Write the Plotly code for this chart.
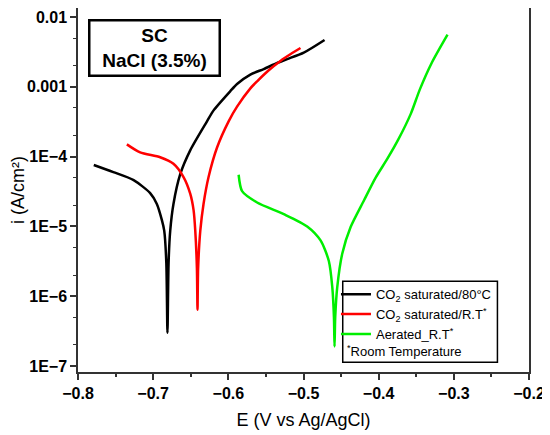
import plotly.graph_objects as go

# potentials (V vs Ag/AgCl) and current densities (A/cm2)
e_co2_80 = [-0.779, -0.753, -0.726, -0.704, -0.6951, -0.6884, -0.6853, -0.6825,
            -0.681, -0.6795, -0.6773, -0.673, -0.664, -0.6507, -0.6284, -0.6196,
            -0.5973, -0.5884, -0.5707, -0.553, -0.535, -0.5217, -0.4996, -0.472]
i_co2_80 = [7.6e-5, 6.0e-5, 4.6e-5, 3.0e-5, 2.1e-5, 1.23e-5, 8.7e-6, 3.0e-6,
            3.0e-7, 3.0e-6, 8.7e-6, 2.1e-5, 5.6e-5, 1.23e-4, 3.2e-4, 4.6e-4,
            8.7e-4, 1.1e-3, 1.5e-3, 1.8e-3, 2.2e-3, 2.5e-3, 3.1e-3, 4.7e-3]

e_co2_rt = [-0.735, -0.7173, -0.6907, -0.673, -0.6596, -0.6507, -0.6462, -0.644,
            -0.6418, -0.641, -0.6402, -0.6373, -0.633, -0.6263, -0.615, -0.5996,
            -0.5884, -0.5707, -0.5617, -0.547, -0.5307, -0.517, -0.504]
i_co2_rt = [1.5e-4, 1.15e-4, 9.8e-5, 7.9e-5, 5.1e-5, 2.95e-5, 1.7e-5, 8.7e-6,
            2.5e-6, 6.4e-7, 2.5e-6, 8.7e-6, 2.1e-5, 5.1e-5, 1.35e-4, 3.2e-4,
            5.2e-4, 9.5e-4, 1.2e-3, 1.7e-3, 2.35e-3, 2.95e-3, 3.6e-3]

e_aerated = [-0.5863, -0.5817, -0.5617, -0.5263, -0.4951, -0.4773, -0.4663, -0.4617,
             -0.4595, -0.4587, -0.4578, -0.4551, -0.4484, -0.4373, -0.4196, -0.404,
             -0.388, -0.374, -0.3573, -0.3452, -0.3295, -0.3084]
i_aerated = [5.5e-5, 3.2e-5, 2.2e-5, 1.5e-5, 1.0e-5, 6.3e-6, 3.2e-6, 1.35e-6,
             5.0e-7, 1.9e-7, 5.0e-7, 1.35e-6, 4.1e-6, 9.8e-6, 2.35e-5, 5.0e-5,
             9.5e-5, 1.75e-4, 4.1e-4, 9.2e-4, 2.2e-3, 5.6e-3]

series = [
    ("CO<sub>2</sub> saturated/80°C", e_co2_80, i_co2_80, "black"),
    ("CO<sub>2</sub> saturated/R.T<sup>*</sup>", e_co2_rt, i_co2_rt, "#ff0000"),
    ("Aerated_R.T<sup>*</sup>", e_aerated, i_aerated, "#00ee00"),
]

y_tickvals = [1e-7, 1e-6, 1e-5, 1e-4, 1e-3, 1e-2]
y_ticktext = ["1E\u22127", "1E\u22126", "1E\u22125", "1E\u22124", "0.001", "0.01"]

font = "Arial, Liberation Sans, sans-serif"

fig = go.Figure()
for name, e, i, color in series:
    fig.add_trace(go.Scatter(x=e, y=i, mode="lines", name=name,
                             line=dict(color=color, width=2.5, shape="spline", smoothing=0.7)))

# page body keeps an 8px margin, so the figure is 8px smaller than the window
fig.update_layout(
    width=542, height=427,
    margin=dict(l=70, r=21, t=0, b=63),
    plot_bgcolor="white", paper_bgcolor="white",
    font=dict(family=font, color="black"),
    showlegend=True,
    legend=dict(x=0.572, y=0.255, xanchor="left", yanchor="top",
                bgcolor="rgba(0,0,0,0)", borderwidth=0,
                font=dict(size=13, family=font), tracegroupgap=0),
)

fig.update_xaxes(
    range=[-0.8, -0.2], tickvals=[-0.8, -0.7, -0.6, -0.5, -0.4, -0.3, -0.2],
    ticks="outside", ticklen=6, tickwidth=1.5, tickcolor="#333",
    minor=dict(dtick=0.05, tick0=-0.8, ticks="outside", ticklen=3, tickwidth=1.5, tickcolor="#333"),
    showline=True, linecolor="#333", linewidth=1.5, mirror=True,
    showgrid=False, zeroline=False, automargin=False,
    tickfont=dict(size=16, weight="bold", family=font),
    title=dict(text="E (V vs Ag/AgCl)", font=dict(size=18, family=font), standoff=12),
)
fig.update_yaxes(
    type="log", range=[-7.086, -1.87],
    tickvals=y_tickvals, ticktext=y_ticktext,
    ticks="outside", ticklen=6, tickwidth=1.5, tickcolor="#333",
    minor=dict(ticks="outside", ticklen=3, tickwidth=1, tickcolor="#333", showgrid=False),
    showline=True, linecolor="#333", linewidth=1.5, mirror=True,
    showgrid=False, zeroline=False, automargin=False,
    tickfont=dict(size=16, weight="bold", family=font),
    title=dict(text="i (A/cm\u00b2)", font=dict(size=18, family=font), standoff=8),
)

# label box in the top-left corner
fig.add_annotation(
    xref="paper", yref="paper", x=0.022, y=0.97, xanchor="left", yanchor="top",
    text="<b>SC<br>NaCl (3.5%)</b>", showarrow=False, align="center",
    font=dict(size=19, family=font), width=126, height=51,
    bordercolor="black", borderwidth=2.5, borderpad=1, bgcolor="white",
)

# legend frame and footnote
fig.add_shape(type="rect", xref="paper", yref="paper",
              x0=0.587, x1=0.93, y0=0.027, y1=0.249,
              line=dict(color="black", width=1.5))
fig.add_annotation(
    xref="paper", yref="paper", x=0.593, y=0.03, xanchor="left", yanchor="bottom",
    text="<sup>*</sup>Room Temperature", showarrow=False,
    font=dict(size=13, family=font),
)

fig.write_html("out.html")
